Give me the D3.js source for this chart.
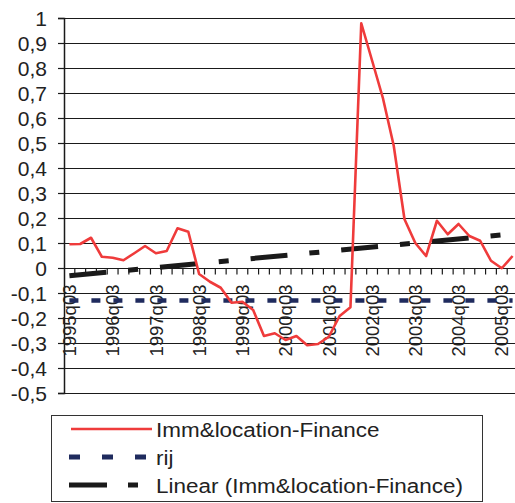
<!DOCTYPE html>
<html>
<head>
<meta charset="utf-8">
<script src="https://cdn.jsdelivr.net/npm/d3@7"></script>
<style>
  body { margin: 0; background: #fff; }
  svg { display: block; font-family: "Liberation Sans", Arial, sans-serif; }
</style>
</head>
<body>
<div id="chart"></div>
<script>
const quarters = [
  "1995q03", "1995q04", "1996q01", "1996q02", "1996q03", "1996q04", "1997q01", "1997q02",
  "1997q03", "1997q04", "1998q01", "1998q02", "1998q03", "1998q04", "1999q01", "1999q02",
  "1999q03", "1999q04", "2000q01", "2000q02", "2000q03", "2000q04", "2001q01", "2001q02",
  "2001q03", "2001q04", "2002q01", "2002q02", "2002q03", "2002q04", "2003q01", "2003q02",
  "2003q03", "2003q04", "2004q01", "2004q02", "2004q03", "2004q04", "2005q01", "2005q02",
  "2005q03", "2005q04"
];
const immFinance = [
  0.095, 0.096, 0.121, 0.045, 0.041, 0.031, 0.059, 0.088,
  0.059, 0.068, 0.159, 0.145, -0.024, -0.055, -0.079, -0.139,
  -0.135, -0.168, -0.272, -0.261, -0.288, -0.272, -0.309, -0.304,
  -0.275, -0.192, -0.157, 0.979, 0.83, 0.68, 0.49, 0.195,
  0.10, 0.048, 0.189, 0.135, 0.176, 0.128, 0.109, 0.029,
  -0.001, 0.048
];
const rij = -0.13;
const yTicks = [-0.5, -0.4, -0.3, -0.2, -0.1, 0, 0.1, 0.2, 0.3, 0.4, 0.5, 0.6, 0.7, 0.8, 0.9, 1];
const seriesNames = ["Imm&location-Finance", "rij", "Linear (Imm&location-Finance)"];

const width = 515, height = 503;
const plot = { left: 64, top: 18, right: 518, bottom: 393 };

const svg = d3.select('#chart').append('svg')
    .attr('width', width)
    .attr('height', height);

const x = d3.scaleBand()
    .domain(quarters)
    .range([plot.left, plot.right])
    .padding(0);
const cx = q => x(q) + x.bandwidth() / 2;

const y = d3.scaleLinear()
    .domain([-0.5, 1])
    .range([plot.bottom, plot.top]);

const loc = d3.formatLocale({ decimal: ",", thousands: ".", grouping: [3], currency: ["", ""], minus: "-" });
const fmt = v => Math.abs(v) < 1e-9 ? "0" : loc.format("~g")(+v.toFixed(1));

// gridlines
svg.append('g')
    .selectAll('line')
    .data(yTicks)
    .enter().append('line')
    .attr('x1', plot.left).attr('x2', plot.right)
    .attr('y1', d => Math.round(y(d)) + 0.5).attr('y2', d => Math.round(y(d)) + 0.5)
    .attr('stroke', '#1a1a1a')
    .attr('stroke-width', 1.2);

// y axis
const yAxis = svg.append('g')
    .attr('transform', 'translate(' + plot.left + ',0)')
    .call(d3.axisLeft(y).tickValues(yTicks).tickSize(6).tickPadding(11).tickFormat(fmt));
yAxis.select('.domain').attr('stroke', '#1a1a1a').attr('stroke-width', 1.5);
yAxis.selectAll('.tick line').attr('stroke', '#1a1a1a').attr('stroke-width', 1.2);
yAxis.selectAll('.tick text')
    .attr('fill', '#222')
    .style('font-size', '21px')
    .attr('dy', '0.36em');

// x axis at zero
const xAxis = svg.append('g')
    .attr('transform', 'translate(0,' + (Math.round(y(0)) + 0.5) + ')');
xAxis.append('line')
    .attr('x1', plot.left).attr('x2', plot.right)
    .attr('stroke', '#1a1a1a').attr('stroke-width', 1.2);
xAxis.selectAll('.qtick')
    .data(quarters)
    .enter().append('line')
    .attr('class', 'qtick')
    .attr('x1', d => x(d) + x.bandwidth()).attr('x2', d => x(d) + x.bandwidth())
    .attr('y1', 0).attr('y2', 6)
    .attr('stroke', '#1a1a1a').attr('stroke-width', 1.2);
xAxis.selectAll('.qlabel')
    .data(quarters.filter(q => q.endsWith('q03')))
    .enter().append('text')
    .attr('class', 'qlabel')
    .attr('transform', d => 'translate(' + cx(d) + ',16) rotate(-90)')
    .attr('text-anchor', 'end')
    .attr('dy', '0.36em')
    .attr('fill', '#222')
    .style('font-size', '18.5px')
    .text(d => d);

// linear trend (least squares over the series)
const idx = immFinance.map((d, i) => i);
const mx = d3.mean(idx), my = d3.mean(immFinance);
const slope = d3.sum(idx, i => (i - mx) * (immFinance[i] - my)) / d3.sum(idx, i => (i - mx) * (i - mx));
const icpt = my - slope * mx;
const trend = quarters.map((q, i) => ({ q: q, v: icpt + slope * i }));

const line = d3.line()
    .x(d => cx(d.q))
    .y(d => y(d.v));

// rij
svg.append('path')
    .datum(quarters.map(q => ({ q: q, v: rij })))
    .attr('d', line)
    .attr('fill', 'none')
    .attr('stroke', '#1f2b5e')
    .attr('stroke-width', 4.5)
    .attr('stroke-dasharray', '9,13');

svg.append('path')
    .datum([trend[0], trend[trend.length - 1]])
    .attr('d', line)
    .attr('fill', 'none')
    .attr('stroke', '#1a1a1a')
    .attr('stroke-width', 5)
    .attr('stroke-dasharray', '37,22,10,22');

svg.append('path')
    .datum(quarters.map((q, i) => ({ q: q, v: immFinance[i] })))
    .attr('d', line)
    .attr('fill', 'none')
    .attr('stroke', '#ef3b3b')
    .attr('stroke-width', 2.6)
    .attr('stroke-linejoin', 'round');

// legend
const legend = svg.append('g');
legend.append('rect')
    .attr('x', 51.5).attr('y', 415.5)
    .attr('width', 431).attr('height', 86)
    .attr('fill', '#fff')
    .attr('stroke', '#333')
    .attr('stroke-width', 1);

const legendRows = [
  { name: seriesNames[0], color: '#ef3b3b', w: 2.6, dash: null, x1: 71, x2: 152 },
  { name: seriesNames[1], color: '#1f2b5e', w: 5, dash: '11,22', x1: 69, x2: 146 },
  { name: seriesNames[2], color: '#1a1a1a', w: 5, dash: '38,21,10,40', x1: 69, x2: 139 }
];
const rowY = [429, 457, 485];
const g = legend.selectAll('.row')
    .data(legendRows)
    .enter().append('g')
    .attr('class', 'row')
    .attr('transform', (d, i) => 'translate(0,' + rowY[i] + ')');
g.append('line')
    .attr('x1', d => d.x1).attr('x2', d => d.x2)
    .attr('stroke', d => d.color)
    .attr('stroke-width', d => d.w)
    .attr('stroke-dasharray', d => d.dash);
g.append('text')
    .attr('transform', 'translate(156,0) scale(1.07,1)')
    .attr('dy', '0.36em')
    .attr('fill', '#222')
    .style('font-size', '21px')
    .text(d => d.name);
</script>
</body>
</html>
